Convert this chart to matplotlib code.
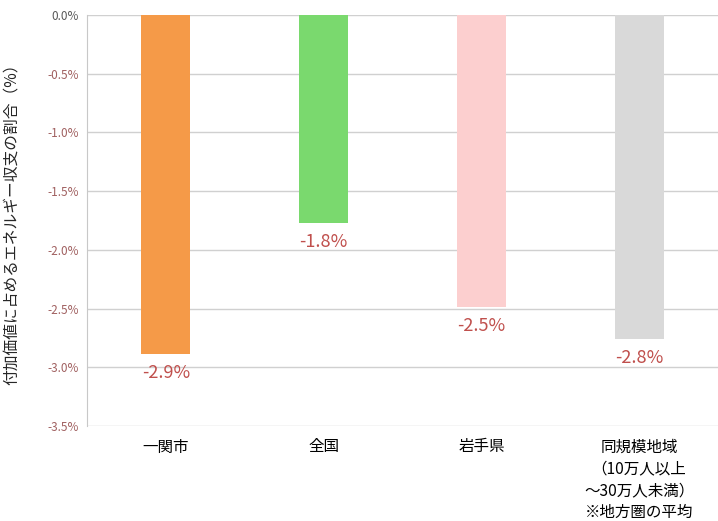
import matplotlib.pyplot as plt
from matplotlib.ticker import FuncFormatter

plt.rcParams['font.family'] = ['Noto Sans CJK JP', 'DejaVu Sans']

categories = ['一関市', '全国', '岩手県', '同規模地域\n（10万人以上\n～30万人未満）\n※地方圏の平均']
values = [-2.89, -1.77, -2.49, -2.76]
labels = ['-2.9%', '-1.8%', '-2.5%', '-2.8%']
colors = ['#f59a48', '#7ad96e', '#fccfcf', '#d9d9d9']
yticks = [0.0, -0.5, -1.0, -1.5, -2.0, -2.5, -3.0, -3.5]

fig = plt.figure(figsize=(7.18, 5.21), dpi=100)
ax = fig.add_axes([87 / 718, 1 - 426 / 521, 631 / 718, 411 / 521])

x = range(len(categories))
bars = ax.bar(x, values, width=0.31, color=colors, zorder=2)

for bar, text in zip(bars, labels):
    ax.annotate(text, (bar.get_x() + bar.get_width() / 2, bar.get_height()),
                xytext=(0, -7), textcoords='offset points',
                ha='center', va='top', fontsize=13, color='#c0504d')

ax.set_xlim(-0.5, len(categories) - 0.5)
ax.set_ylim(-3.5, 0.0)
ax.set_yticks(yticks)
ax.yaxis.set_major_formatter(FuncFormatter(lambda v, p: f'{v:.1f}%'))
for t, v in zip(ax.get_yticklabels(), yticks):
    t.set_color('#595959' if v == 0 else '#a06060')
    t.set_fontsize(8.5)

ax.set_xticks(list(x))
ax.set_xticklabels(categories, fontsize=11.2, linespacing=1.36, va='top',
                   ha='center', multialignment='center')
ax.tick_params(axis='x', length=0, pad=9)
ax.tick_params(axis='y', length=0, pad=6)

ax.grid(axis='y', color='#d0d0d0', linewidth=1, zorder=0)
for s in ['top', 'right', 'bottom']:
    ax.spines[s].set_visible(False)
ax.spines['left'].set_color('#c8c8c8')

ax.set_ylabel('付加価値に占めるエネルギー収支の割合（%）', fontsize=11.3, color='#262626')
ax.yaxis.set_label_coords(-0.105, 0.5)

fig.savefig('out.png', dpi=100)
